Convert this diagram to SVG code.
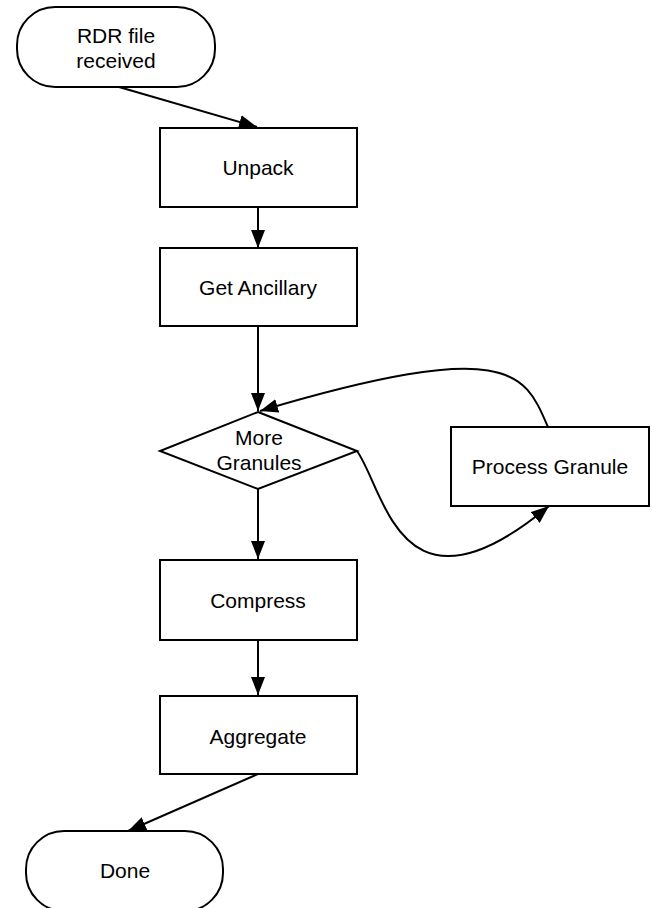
<svg xmlns="http://www.w3.org/2000/svg" width="652" height="908" viewBox="0 0 652 908">
<defs>
<style>
.n{fill:#fff;stroke:#000;stroke-width:2}
.t{font-family:"Liberation Sans",Arial,sans-serif;font-size:21px;fill:#000;text-anchor:middle}
.c{fill:none;stroke:#000;stroke-width:2}
</style>
<marker id="ah" viewBox="0 0 18 14" refX="18" refY="7" markerWidth="18" markerHeight="14" markerUnits="userSpaceOnUse" orient="auto">
<path d="M0,0 L18,7 L0,14 Z" fill="#000"/>
</marker>
</defs>
<rect width="652" height="908" fill="#fff"/>
<g id="connectors">
<path class="c" d="M119,87 L257,127" marker-end="url(#ah)"/>
<path class="c" d="M258,207 L258,248" marker-end="url(#ah)"/>
<path class="c" d="M258,326 L258,411" marker-end="url(#ah)"/>
<path class="c" d="M548,427 C525,375 515,335 260,411" marker-end="url(#ah)"/>
<path class="c" d="M357,451 C385,490 400,630 549,506" marker-end="url(#ah)"/>
<path class="c" d="M258,489 L258,559" marker-end="url(#ah)"/>
<path class="c" d="M258,640 L258,695" marker-end="url(#ah)"/>
<path class="c" d="M258,774 L128,831" marker-end="url(#ah)"/>
</g>
<g id="start">
<rect class="n" x="17" y="7" width="198" height="80" rx="38" ry="38"/>
<text class="t" x="116" y="43">RDR file</text>
<text class="t" x="116" y="68">received</text>
</g>
<g id="unpack">
<rect class="n" x="160" y="128" width="197" height="79"/>
<text class="t" x="258" y="175">Unpack</text>
</g>
<g id="ancillary">
<rect class="n" x="160" y="248" width="197" height="78"/>
<text class="t" x="258" y="295">Get Ancillary</text>
</g>
<g id="decision">
<polygon class="n" points="258,412 357,451 258,489 160,451"/>
<text class="t" x="259" y="445">More</text>
<text class="t" x="259" y="470">Granules</text>
</g>
<g id="process">
<rect class="n" x="451" y="427" width="198" height="79"/>
<text class="t" x="550" y="474">Process Granule</text>
</g>
<g id="compress">
<rect class="n" x="160" y="560" width="197" height="80"/>
<text class="t" x="258" y="608">Compress</text>
</g>
<g id="aggregate">
<rect class="n" x="160" y="696" width="197" height="78"/>
<text class="t" x="258" y="744">Aggregate</text>
</g>
<g id="done">
<rect class="n" x="26" y="831" width="197" height="80" rx="38" ry="38"/>
<text class="t" x="125" y="878">Done</text>
</g>
</svg>
